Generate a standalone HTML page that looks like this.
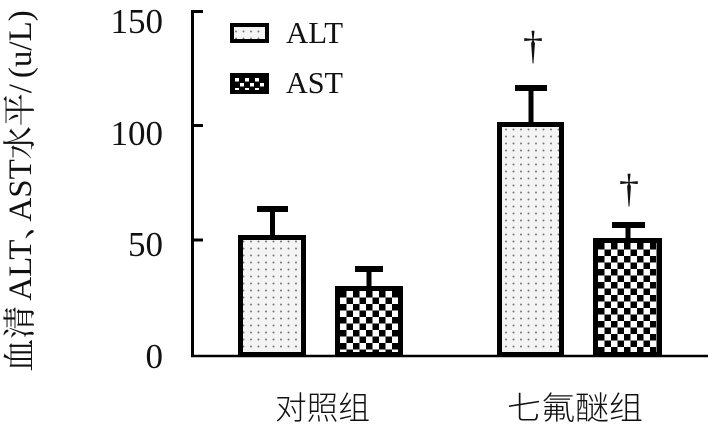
<!DOCTYPE html>
<html>
<head>
<meta charset="utf-8">
<style>
html,body{margin:0;padding:0;background:#fff;}
svg{display:block;}
</style>
</head>
<body>
<svg width="716" height="429" viewBox="0 0 716 429" xmlns="http://www.w3.org/2000/svg">
<defs>
<pattern id="dots" patternUnits="userSpaceOnUse" width="7.5" height="7" x="0" y="0">
<rect width="7.5" height="7" fill="#f4f4f4"/>
<circle cx="3.5" cy="3.5" r="1" fill="#777"/>
</pattern>
<pattern id="check" patternUnits="userSpaceOnUse" width="13" height="13" x="340" y="291">
<rect width="13" height="13" fill="#fff"/>
<rect x="0" y="0" width="6.5" height="6.5" fill="#000"/>
<rect x="6.5" y="6.5" width="6.5" height="6.5" fill="#000"/>
</pattern>
<pattern id="check2" patternUnits="userSpaceOnUse" width="13" height="13" x="598" y="243">
<rect width="13" height="13" fill="#fff"/>
<rect x="0" y="0" width="6.5" height="6.5" fill="#000"/>
<rect x="6.5" y="6.5" width="6.5" height="6.5" fill="#000"/>
</pattern>
<pattern id="checkL" patternUnits="userSpaceOnUse" width="10" height="10" x="234" y="77">
<rect width="10" height="10" fill="#000"/>
<rect x="1" y="1" width="4" height="3.5" fill="#fff"/>
<rect x="6" y="6" width="4" height="3.5" fill="#fff"/>
</pattern>
</defs>

<!-- Y axis label -->
<text transform="translate(31,191) rotate(-90)" text-anchor="middle" font-family="'Liberation Serif', 'Noto Serif CJK SC', serif" font-size="33" fill="#111"><tspan>血清</tspan><tspan dx="5">ALT、</tspan><tspan dx="-15">AST水平/</tspan><tspan dx="6">(u/L)</tspan></text>

<!-- Y tick labels -->
<g font-family="'Liberation Serif', serif" font-size="35" fill="#111" text-anchor="end">
<text x="163" y="33">150</text>
<text x="163" y="145">100</text>
<text x="163" y="256">50</text>
<text x="163" y="368">0</text>
</g>

<!-- axes -->
<line x1="192.5" y1="10" x2="192.5" y2="357" stroke="#000" stroke-width="3"/>
<g stroke="#000" stroke-width="3">
<line x1="192" y1="11.5" x2="203" y2="11.5"/>
<line x1="192" y1="125.5" x2="203" y2="125.5"/>
<line x1="192" y1="240" x2="203" y2="240"/>
</g>
<line x1="191" y1="356" x2="708" y2="356" stroke="#000" stroke-width="2.5"/>

<!-- Bars -->
<rect x="240.5" y="237.5" width="63" height="117" fill="url(#dots)" stroke="#000" stroke-width="5"/>
<rect x="337.5" y="288.5" width="63" height="66" fill="url(#check)" stroke="#000" stroke-width="5"/>
<rect x="499.5" y="124.5" width="62" height="230" fill="url(#dots)" stroke="#000" stroke-width="5"/>
<rect x="595.5" y="240.5" width="64" height="114" fill="url(#check2)" stroke="#000" stroke-width="5"/>

<!-- Error bars -->
<g fill="#000">
<rect x="257" y="206" width="31" height="6"/>
<rect x="270" y="206" width="5" height="30"/>
<rect x="355" y="266" width="28" height="6"/>
<rect x="366.5" y="266" width="5" height="21"/>
<rect x="515" y="85" width="32" height="6"/>
<rect x="528.5" y="85" width="5" height="38"/>
<rect x="612" y="222" width="33" height="6"/>
<rect x="625.5" y="222" width="5" height="17"/>
</g>

<!-- daggers -->
<g font-family="'Liberation Serif', serif" font-size="40" fill="#111" text-anchor="middle">
<text x="533" y="59">†</text>
<text x="629" y="202">†</text>
</g>

<!-- Legend -->
<rect x="232" y="25" width="35" height="16" fill="url(#dots)" stroke="#000" stroke-width="4"/>
<rect x="232" y="75" width="35" height="17" fill="url(#checkL)" stroke="#000" stroke-width="4"/>
<g font-family="'Liberation Serif', serif" font-size="31" fill="#111">
<text x="286" y="43" textLength="57" lengthAdjust="spacingAndGlyphs">ALT</text>
<text x="286" y="93" textLength="57" lengthAdjust="spacingAndGlyphs">AST</text>
</g>

<!-- X labels -->
<g font-family="'Noto Sans CJK SC', sans-serif" font-size="32" font-weight="300" fill="#111">
<text x="275" y="419" textLength="95" lengthAdjust="spacingAndGlyphs">对照组</text>
<text x="507" y="419" textLength="136" lengthAdjust="spacingAndGlyphs">七氟醚组</text>
</g>
</svg>
</body>
</html>
